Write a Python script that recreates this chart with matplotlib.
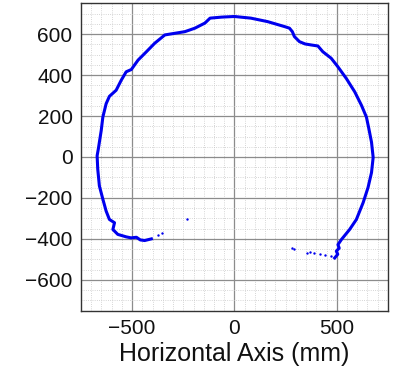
import matplotlib
matplotlib.use("Agg")
import matplotlib.pyplot as plt
from matplotlib.ticker import MultipleLocator

plt.rcParams['font.family'] = ['Liberation Sans', 'DejaVu Sans']

# Main traced contour (mm)
curve_x = [-406, -439, -460, -479, -505, -529, -570, -594, -586, -611, -627, -643,
           -660, -668, -671, -665, -660, -651, -643, -627, -611, -578, -553, -529,
           -504, -471, -430, -390, -340, -291, -242, -193, -144, -119, -62, 0,
           80, 162, 244, 269, 283, 293, 318, 345, 375, 408, 432, 473, 506, 547, 588, 621,
           645, 657, 670, 678, 670, 653, 629, 596, 563, 523, 506, 512, 498, 505, 490]
curve_y = [-400, -408, -405, -392, -395, -390, -378, -354, -321, -305, -264, -206,
           -141, -59, 6, 40, 72, 129, 195, 260, 296, 326, 375, 416,
           427, 473, 514, 555, 596, 604, 612, 629, 654, 678, 683, 686,
           678, 661, 637, 629, 612, 588, 563, 552, 547, 542, 514, 482, 440, 383, 318, 252,
           195, 138, 72, -2, -76, -149, -223, -305, -354, -403, -428, -445, -460, -475, -493]

# Sparse isolated detections
sparse_x = [-234, -352, -373, 473, 441, 416, 391, 367, 356, 293, 280]
sparse_y = [-302, -370, -383, -485, -477, -472, -469, -465, -469, -449, -446]

fig = plt.figure(figsize=(3.93, 3.76), dpi=100)
ax = fig.add_axes([0.206, 0.174, 0.781, 0.817])

ax.plot(curve_x, curve_y, color='#0000ee', lw=2.2, solid_joinstyle='round', zorder=3)
ax.scatter(sparse_x, sparse_y, s=3, color='#0000ee', linewidths=0, zorder=3)

ax.set_xlim(-750, 750)
ax.set_ylim(-750, 750)
ax.xaxis.set_major_locator(MultipleLocator(500))
ax.yaxis.set_major_locator(MultipleLocator(200))
ax.xaxis.set_minor_locator(MultipleLocator(50))
ax.yaxis.set_minor_locator(MultipleLocator(50))
ax.grid(which='major', color='#8c8c8c', lw=0.9, ls='-')
ax.grid(which='minor', color='#c8c8c8', lw=0.6, ls=':')
ax.set_axisbelow(True)
ax.tick_params(which='both', length=0, labelsize=15, pad=6, colors='#111111')
for s in ax.spines.values():
    s.set_color('#333333')
    s.set_linewidth(1.0)
ax.set_xlabel('Horizontal Axis (mm)', fontsize=18, labelpad=3, color='#111111')

fig.savefig('out.png', dpi=100)
